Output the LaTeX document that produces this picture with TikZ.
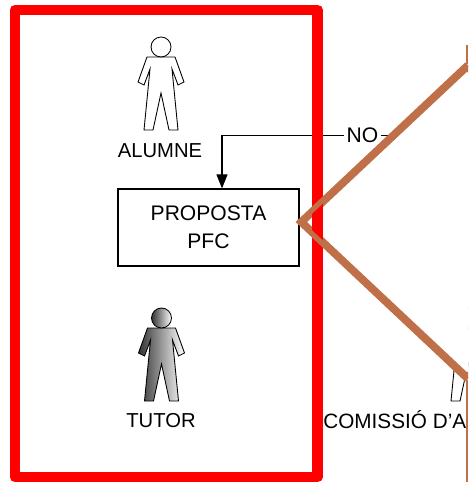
\documentclass[tikz,border=0pt]{standalone}
\usepackage{fontspec}
\setmainfont{Liberation Sans}
\usetikzlibrary{shapes.geometric,arrows.meta}
\definecolor{marro}{RGB}{192,112,72}
\tikzset{
  pics/persona/.style={code={
    \draw[line width=0.5pt,#1] (-14,10) -- (-23,35) -- (-17,38) -- (-11,22) -- (-17,83) -- (-8,83) -- (0,46)
      -- (8,83) -- (17,83) -- (11,22) -- (17,38) -- (23,35) -- (14,10) -- cycle;
    \draw[line width=0.5pt,#1] (0,0) circle[radius=0.2cm];
  }}
}
\begin{document}
\begin{tikzpicture}[x=0.02cm,y=-0.02cm,
  caixa/.style={draw,line width=0.7pt,minimum width=3.62cm,minimum height=1.54cm,align=center,font=\fontsize{12}{16}\selectfont},
  etiqueta/.style={anchor=base,inner sep=0pt,font=\fontsize{11.5}{14}\selectfont},
  vora/.style={draw=marro,line width=3pt},
  decisio/.style={shape=diamond,vora,fill=white,minimum width=6.6cm,minimum height=6.2cm,inner sep=0pt},
  fletxa/.style={line width=0.6pt,-{Triangle[length=0.28cm,width=0.22cm]}},
  rotul/.style={fill=white,inner sep=1.5pt,font=\fontsize{12}{14}\selectfont}]
      \useasboundingbox (0,0) rectangle (468,482);
      \clip (0,0) rectangle (468,482);
      % persona de la comissio, tapada pel rombe
      \pic at (468,318) {persona={fill=white}};
      \node[decisio] (decisio) at (467,222) {};
      \coordinate (dalt) at (467,45);
      \coordinate (baix) at (467,482);
      \draw[marro,line width=0.8pt] (decisio.north) -- (dalt);
      \draw[marro,line width=0.8pt] (decisio.south) -- (baix);
      \node[caixa] (proposta) at (208.5,227.5) {PROPOSTA\\PFC};
      \draw[fletxa] (decisio.131) -| node[rotul,pos=0.086] {NO} ([xshift=0.27cm]proposta.north);
      % requadre vermell
      \draw[red,line width=6.2pt,line join=round] (15,10) rectangle (317.5,477);
      \draw[vora] (decisio.north) -- (decisio.west) -- (decisio.south);
      \pic at (161,47) {persona={fill=white}};
      \node[etiqueta] (alumne) at (160,158) {ALUMNE};
      \pic at (161.5,318) {persona={left color=black!80,right color=white}};
      \node[etiqueta] (tutor) at (161,427) {TUTOR};
      \node[etiqueta,anchor=base west,font=\fontsize{11.8}{14}\selectfont] (comissio) at (323,428) {COMISSIÓ D’A};

      \end{tikzpicture}
\end{document}
